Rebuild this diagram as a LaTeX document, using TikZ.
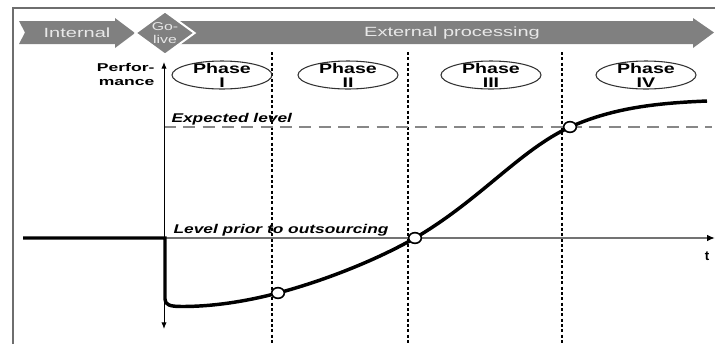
\documentclass[tikz,border=0pt]{standalone}
\usepackage{fontspec}
\setmainfont{Liberation Sans}
\usetikzlibrary{shapes.geometric,arrows.meta}

\definecolor{bandgray}{RGB}{128,128,128}
\definecolor{bandtext}{RGB}{232,232,232}
\definecolor{framegray}{RGB}{110,110,110}
\definecolor{levelgray}{RGB}{135,135,135}
\definecolor{axisgray}{RGB}{115,115,115}

\newcommand{\wide}[2][1.4]{\scalebox{#1}[1]{#2}}

\tikzset{every picture/.style={line width=0.75pt}}
\tikzset{
  band/.style={fill=bandgray, draw=none},
  bandlabel/.style={text=bandtext, font=\fontsize{10}{12}\selectfont, inner sep=0.75pt},
  phase/.style={ellipse, draw={rgb, 255:red, 50; green, 50; blue, 50}, line width=0.8pt, minimum width=75pt, minimum height=21pt, inner sep=0pt},
  phaselabel/.style={font=\bfseries\fontsize{10.5}{10.5}\selectfont, align=center, inner sep=0.75pt},
  boundary/.style={dash pattern={on 2.2pt off 1.8pt}, line width=0.9pt},
  levellabel/.style={font=\bfseries\itshape\fontsize{9.5}{11}\selectfont, anchor=base west, inner sep=0.75pt},
  marker/.style={ellipse, draw, line width=1.2pt, fill=white, minimum width=9.5pt, minimum height=8pt, inner sep=0pt},
}

\begin{document}
\begin{tikzpicture}[x=0.75pt,y=0.75pt,yscale=-1,xscale=1]
\useasboundingbox (0,0) rectangle (715,344);

%Frame
\draw [framegray, line width=1.5pt] (13,344) -- (13,8) -- (715,8) ;

%Band: internal
\draw [band] (19,21) -- (115,21) -- (115,18) -- (135,33) -- (115,48) -- (115,44) -- (19,44) -- (25,32.5) -- cycle ;
%Band: external processing
\draw [band] (175,21) -- (693,21) -- (693,18) -- (714,32.5) -- (693,48) -- (693,44) -- (175,44) -- cycle ;
%Shape: Diamond
\draw (165,33) node [diamond, aspect=1.4, fill=bandgray, draw=white, line width=1.5pt, minimum width=45pt, minimum height=33pt, inner sep=0pt, text=bandtext, align=center, font=\fontsize{8.5}{9.5}\selectfont] (golive) {\wide{Go-}\\\wide{live}};

% Text Node
\draw (77,33) node [bandlabel] (internal) {\wide[1.5]{Internal}};
% Text Node
\draw (452,33) node [bandlabel] (external) {\wide[1.5]{External processing}};

%Phase boundaries
\foreach \bx in {272,408,562}
  \draw [boundary] (\bx,52) -- (\bx,344) ;

%Expected level
\draw [levelgray, line width=1.5pt, dash pattern={on 9pt off 5.5pt}] (164,127) -- (712,127) ;

%Axes
\coordinate (origin) at (164,238);
\coordinate (xend) at (715,238);
\coordinate (ytop) at (164,62);
\coordinate (ybot) at (164,329);
\draw [axisgray, line width=1.5pt, -{Latex[length=6pt,width=5pt,color=black]}] (origin) -- (xend) ;
\draw [{Latex[length=5pt,width=4pt]}-{Latex[length=5pt,width=4pt]}] (ybot) -- (ytop) ;

%Performance curve
\draw [line width=2.6pt] (23,238) -- (165,238) -- (165,299) .. controls (165,305) and (170,306.5) .. (182,306.5) .. controls (220,306.5) and (255,299) .. (278,293) .. controls (330,279) and (380,258) .. (415,238) .. controls (480,200) and (520,150) .. (570,127) .. controls (615,107) and (660,103) .. (707,101) ;

%Markers
\draw (278,293) node [marker] (mI) {};
\draw (415,238) node [marker] (mII) {};
\draw (570,127) node [marker] (mIII) {};

%Phases
\draw (222,75) node [phase] (phaseI) {};
\draw (348,75) node [phase] (phaseII) {};
\draw (491,75) node [phase] (phaseIII) {};
\draw (646,75) node [phase] (phaseIV) {};
\draw (phaseI) node [phaselabel] (phaseItext) {\wide{Phase}\\\wide{I}};
\draw (phaseII) node [phaselabel] (phaseIItext) {\wide{Phase}\\\wide{II}};
\draw (phaseIII) node [phaselabel] (phaseIIItext) {\wide{Phase}\\\wide{III}};
\draw (phaseIV) node [phaselabel] (phaseIVtext) {\wide{Phase}\\\wide{IV}};

% Text Node
\draw (156,74) node [anchor=east, align=right, inner sep=0.75pt, font=\bfseries\fontsize{8.5}{10.5}\selectfont] (perf) {\wide[1.55]{Perfor-}\\\wide[1.55]{mance}};
% Text Node
\draw (170,122) node [levellabel] (expected) {\wide[1.37]{Expected level}};
% Text Node
\draw (172,233) node [levellabel] (prior) {\wide[1.37]{Level prior to outsourcing}};
% Text Node
\draw (707,256) node [inner sep=0.75pt, font=\bfseries\fontsize{10}{12}\selectfont] (tlabel) {t};

\end{tikzpicture}
\end{document}
